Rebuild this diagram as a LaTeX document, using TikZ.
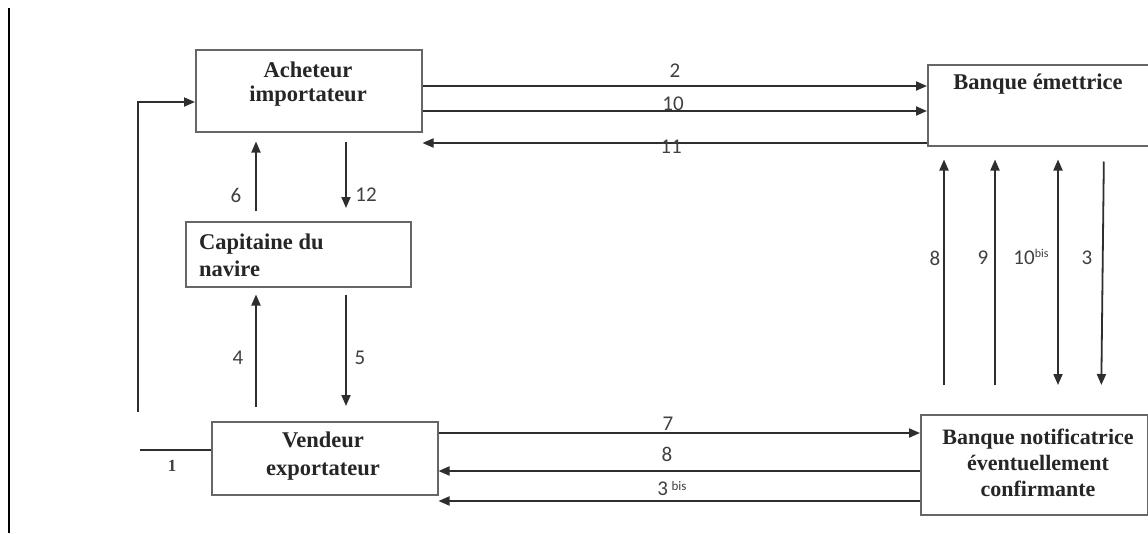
\documentclass[tikz,border=0pt]{standalone}
\usepackage{fontspec}
\setmainfont{Liberation Serif}
\newfontfamily\numfont{Carlito}
\usetikzlibrary{arrows.meta}
\begin{document}
\begin{tikzpicture}[x=1pt,y=-1pt,
  box/.style={draw=black!60, line width=1.5pt, inner sep=0pt, anchor=north west},
  ttl/.style={font=\fontsize{22.5}{24}\selectfont\bfseries, text=black!85, align=center, inner sep=0pt},
  flow/.style={line width=1.8pt, draw=black!82, -{Triangle[length=11pt,width=9pt]}},
  both/.style={line width=1.8pt, draw=black!82, {Triangle[length=11pt,width=9pt]}-{Triangle[length=11pt,width=9pt]}},
  plain/.style={line width=1.8pt, draw=black!82},
  num/.style={font=\numfont\fontsize{21}{22}\selectfont, text=black!75, inner sep=0pt}]
\useasboundingbox[fill=white] (0,0) rectangle (1148,533);

% left margin rule
\coordinate (ruleT) at (9,8);
\coordinate (ruleB) at (9,533);
\draw[line width=1.8pt, black] (ruleT) -- (ruleB);

% boxes
\node[box, minimum width=226pt, minimum height=82pt] (ach) at (195,49) {};
\node[box, minimum width=240pt, minimum height=81pt] (bem) at (927,64) {};
\node[box, minimum width=225pt, minimum height=65pt] (cap) at (185,221) {};
\node[box, minimum width=226pt, minimum height=73pt] (ven) at (211,421) {};
\node[box, minimum width=227pt, minimum height=100pt] (bno) at (920,414) {};

% box titles
\node[ttl] (achT) at (308,84) {Acheteur\\importateur};
\node[ttl] (bemT) at (1038,84) {Banque émettrice};
\node[ttl, align=left, anchor=west, font=\fontsize{22.5}{27}\selectfont\bfseries] (capT) at (199,255) {Capitaine du\\navire};
\node[ttl, font=\fontsize{22.5}{28}\selectfont\bfseries] (venT) at (323,456) {Vendeur\\exportateur};
\node[ttl, font=\fontsize{22}{26}\selectfont\bfseries] (bnoT) at (1038,463) {Banque notificatrice\\éventuellement\\confirmante};

% buyer <-> issuing bank
\draw[flow] (ach.east |- 0,86) -- (bem.west |- 0,86);
\draw[flow] (ach.east |- 0,111) -- (bem.west |- 0,111);
\draw[flow] (bem.west |- 0,143) -- (ach.east |- 0,143);
\node[num] (l2) at (675,71) {2};
\node[num] (l10) at (673,104) {10};
\node[num] (l11) at (671,147) {11};

% buyer <-> captain
\draw[flow, shorten <=10pt, shorten >=9pt] (cap.north -| 256,0) -- (ach.south -| 256,0);
\draw[flow, shorten <=9pt, shorten >=13pt] (ach.south -| 346,0) -- (cap.north -| 346,0);
\node[num] (l6) at (236,195) {6};
\node[num] (l12) at (366,195) {12};

% captain <-> seller
\draw[flow, shorten <=14pt, shorten >=7pt] (ven.north -| 256,0) -- (cap.south -| 256,0);
\draw[flow, shorten <=7pt, shorten >=15pt] (cap.south -| 346,0) -- (ven.north -| 346,0);
\node[num] (l4) at (238,358) {4};
\node[num] (l5) at (360,358) {5};

% contract line and return loop
\coordinate (p1) at (140,450);
\draw[plain] (p1) -- (ven.west |- p1);
\node[font=\fontsize{17}{18}\selectfont\bfseries, text=black!75, inner sep=0pt] (l1) at (172,466) {1};
\coordinate (loopS) at (138,412);
\draw[flow] (loopS) |- (ach.west |- 0,102);

% seller <-> advising bank
\draw[flow] (ven.east |- 0,433) -- (bno.west |- 0,433);
\draw[flow] (bno.west |- 0,471) -- (ven.east |- 0,471);
\draw[flow] (bno.west |- 0,501) -- (ven.east |- 0,501);
\node[num] (l7) at (668,424) {7};
\node[num] (l8b) at (667,454) {8};
\node[num] (l3b) at (672,489) {3\,{\fontsize{13}{14}\selectfont\raisebox{5pt}{bis}}};

% advising bank <-> issuing bank
\draw[flow, shorten <=29pt, shorten >=13pt] (bno.north -| 944,0) -- (bem.south -| 944,0);
\draw[flow, shorten <=29pt, shorten >=13pt] (bno.north -| 995,0) -- (bem.south -| 995,0);
\draw[both, shorten <=13pt, shorten >=29pt] (bem.south -| 1058,0) -- (bno.north -| 1058,0);
\draw[flow, shorten <=15pt, shorten >=29pt] (bem.south -| 1104,0) -- (bno.north -| 1101,0);
\node[num] (l8) at (935,258) {8};
\node[num] (l9) at (983,258) {9};
\node[num] (l10b) at (1031,257) {10{\fontsize{12}{13}\selectfont\raisebox{7pt}{bis}}};
\node[num] (l3) at (1087,258) {3};
\end{tikzpicture}
\end{document}
